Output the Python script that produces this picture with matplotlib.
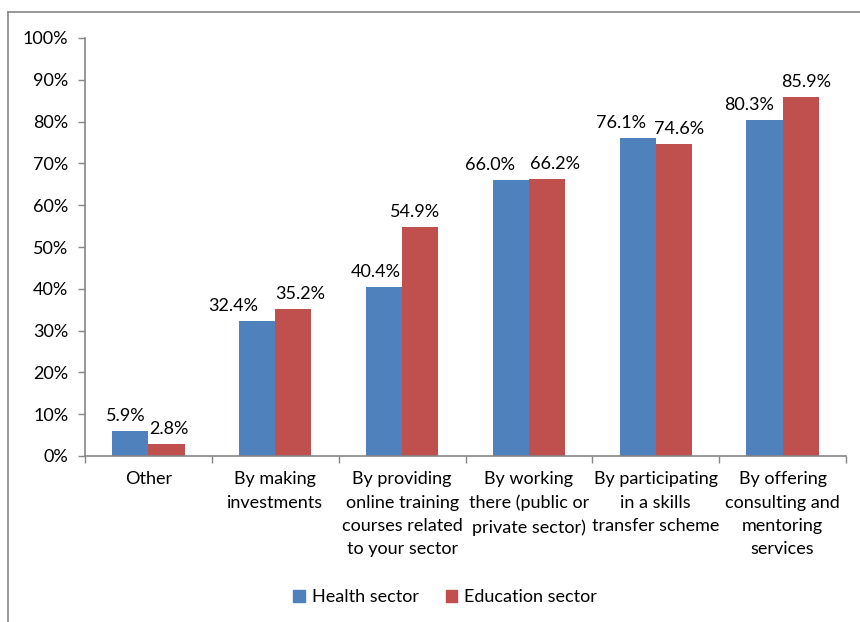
import matplotlib
matplotlib.use("Agg")
import matplotlib.pyplot as plt
from matplotlib.lines import Line2D
from matplotlib.patches import Patch
import numpy as np

categories = [
    "Other",
    "By making\ninvestments",
    "By providing\nonline training\ncourses related\nto your sector",
    "By working\nthere (public or\nprivate sector)",
    "By participating\nin a skills\ntransfer scheme",
    "By offering\nconsulting and\nmentoring\nservices",
]
health = [5.9, 32.4, 40.4, 66.0, 76.1, 80.3]
education = [2.8, 35.2, 54.9, 66.2, 74.6, 85.9]
series_names = ["Health sector", "Education sector"]
yticks = [0, 10, 20, 30, 40, 50, 60, 70, 80, 90, 100]

# horizontal nudges (points) that keep neighbouring value labels apart
health_nudge = [-3, -17, -6, -15, -12, -11]
education_nudge = [2, 5, -4, 6, 4, 4]

BLUE = "#4F81BD"
RED = "#C0504D"
GRAY = "#868686"
FS = 13

plt.rcParams["font.family"] = ["Lato", "DejaVu Sans"]
W, H = 860, 622
fig = plt.figure(figsize=(W / 100, H / 100), dpi=100)

# outer chart frame (left and top edges)
fig.add_artist(Line2D([8 / W, 8 / W], [0, 1 - 12 / H], color=GRAY, lw=1.2))
fig.add_artist(Line2D([8 / W, 1], [1 - 12 / H, 1 - 12 / H], color=GRAY, lw=1.2))

x0, x1, ytop, ybot = 85, 846, 38, 456
ax = fig.add_axes([x0 / W, 1 - ybot / H, (x1 - x0) / W, (ybot - ytop) / H])

n = len(categories)
x = np.arange(n)
bw = 0.285
ax.bar(x - bw / 2, health, bw, color=BLUE, label=series_names[0], edgecolor="none")
ax.bar(x + bw / 2, education, bw, color=RED, label=series_names[1], edgecolor="none")

for xi, v, dx in zip(x - bw / 2, health, health_nudge):
    ax.annotate(f"{v:.1f}%", (xi, v), xytext=(dx, 5), textcoords="offset points",
                ha="center", va="bottom", fontsize=FS)
for xi, v, dx in zip(x + bw / 2, education, education_nudge):
    ax.annotate(f"{v:.1f}%", (xi, v), xytext=(dx, 5), textcoords="offset points",
                ha="center", va="bottom", fontsize=FS)

ax.set_xlim(-0.5, n - 0.5)
ax.set_ylim(0, 100)
ax.set_yticks(yticks)
ax.set_yticklabels([f"{t}%" for t in yticks], fontsize=FS)
ax.tick_params(axis="y", length=5, color=GRAY, width=1, pad=7)

ax.set_xticks(x)
ax.set_xticklabels(categories, fontsize=FS, linespacing=1.56, va="top")
ax.tick_params(axis="x", length=0, pad=11)
ax.set_xticks(np.arange(n + 1) - 0.5, minor=True)
ax.tick_params(axis="x", which="minor", length=5, color=GRAY, width=1)

for s in ["top", "right"]:
    ax.spines[s].set_visible(False)
for s in ["left", "bottom"]:
    ax.spines[s].set_color(GRAY)
    ax.spines[s].set_linewidth(1.2)

handles = [Patch(color=BLUE), Patch(color=RED)]
fig.legend(handles, series_names, loc="center", bbox_to_anchor=(445 / W, 1 - 597 / H),
           ncol=2, frameon=False, fontsize=FS, handlelength=0.65, handleheight=0.65,
           handletextpad=0.35, columnspacing=1.5)

fig.savefig("out.png", dpi=100)
